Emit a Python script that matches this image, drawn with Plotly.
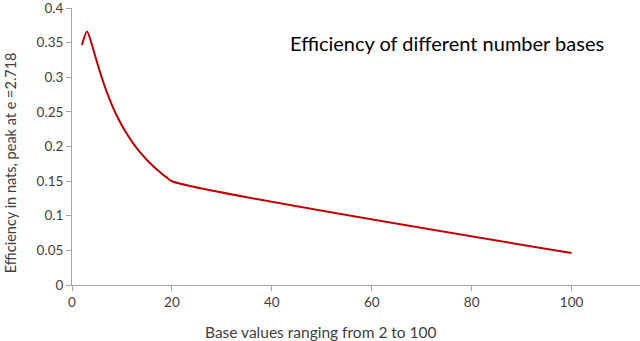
import plotly.graph_objects as go

# Base values (x) and efficiency in nats (y)
bases = [2, 3, 4, 5, 6, 7, 8, 9, 10, 11, 12, 13, 14, 15, 16, 17, 18, 19, 20, 100]
efficiency = [0.3466, 0.3662, 0.3466, 0.3219, 0.2986, 0.2780, 0.2599, 0.2441, 0.2303,
              0.2180, 0.2071, 0.1973, 0.1885, 0.1805, 0.1733, 0.1667, 0.1606, 0.1550,
              0.1498, 0.0461]

x_ticks = [0, 20, 40, 60, 80, 100]
y_ticks = [0, 0.05, 0.1, 0.15, 0.2, 0.25, 0.3, 0.35, 0.4]
y_tick_text = ["0", "0.05", "0.1", "0.15", "0.2", "0.25", "0.3", "0.35", "0.4"]

title_text = "Efficiency of different number bases"
x_title = "Base values ranging from 2 to 100"
y_title = "Efficiency in nats, peak at e =2.718"

FONT = "Lato, 'Open Sans', sans-serif"
AXIS_COLOR = "#A6A6A6"
TEXT_COLOR = "#404040"

fig = go.Figure()
fig.add_trace(go.Scatter(
    x=bases, y=efficiency, mode="lines",
    line=dict(color="#C00000", width=2, shape="spline", smoothing=0.8),
    showlegend=False, hoverinfo="x+y",
))

# Chart title inside the plot area
fig.add_annotation(
    x=43.3, y=0.35, xref="x", yref="y", text=title_text, showarrow=False,
    xanchor="left", yanchor="middle",
    font=dict(family=FONT, size=20, color="#000000"),
)
# Axis titles
fig.add_annotation(
    x=0.438, y=-0.17, xref="paper", yref="paper", text=x_title, showarrow=False,
    xanchor="center", yanchor="middle",
    font=dict(family=FONT, size=15.5, color=TEXT_COLOR),
)
fig.add_annotation(
    x=-0.109, y=0.44, xref="paper", yref="paper", text=y_title, showarrow=False,
    textangle=-90, xanchor="center", yanchor="middle",
    font=dict(family=FONT, size=14.5, color=TEXT_COLOR),
)

fig.update_layout(
    width=640, height=341,
    margin=dict(l=71.5, r=0, t=8, b=56, autoexpand=False),
    paper_bgcolor="white", plot_bgcolor="white",
    font=dict(family=FONT, size=13, color=TEXT_COLOR),
)

fig.update_xaxes(
    range=[0, 113.7], tickvals=x_ticks, ticktext=[str(v) for v in x_ticks],
    automargin=False, ticklabeloverflow="allow",
    showgrid=False, zeroline=False, showline=True, linecolor=AXIS_COLOR, linewidth=1,
    ticks="outside", ticklen=5, tickcolor=AXIS_COLOR,
    tickfont=dict(family=FONT, size=13.5, color=TEXT_COLOR),
)
fig.update_yaxes(
    range=[0, 0.4], tickvals=y_ticks, ticktext=y_tick_text,
    automargin=False, ticklabeloverflow="allow",
    showgrid=False, zeroline=False, showline=True, linecolor=AXIS_COLOR, linewidth=1,
    ticks="outside", ticklen=5, tickcolor=AXIS_COLOR,
    tickfont=dict(family=FONT, size=13.5, color=TEXT_COLOR),
)

fig.write_html("out.html", config={"displayModeBar": False},
               post_script="document.body.style.margin='0';")
